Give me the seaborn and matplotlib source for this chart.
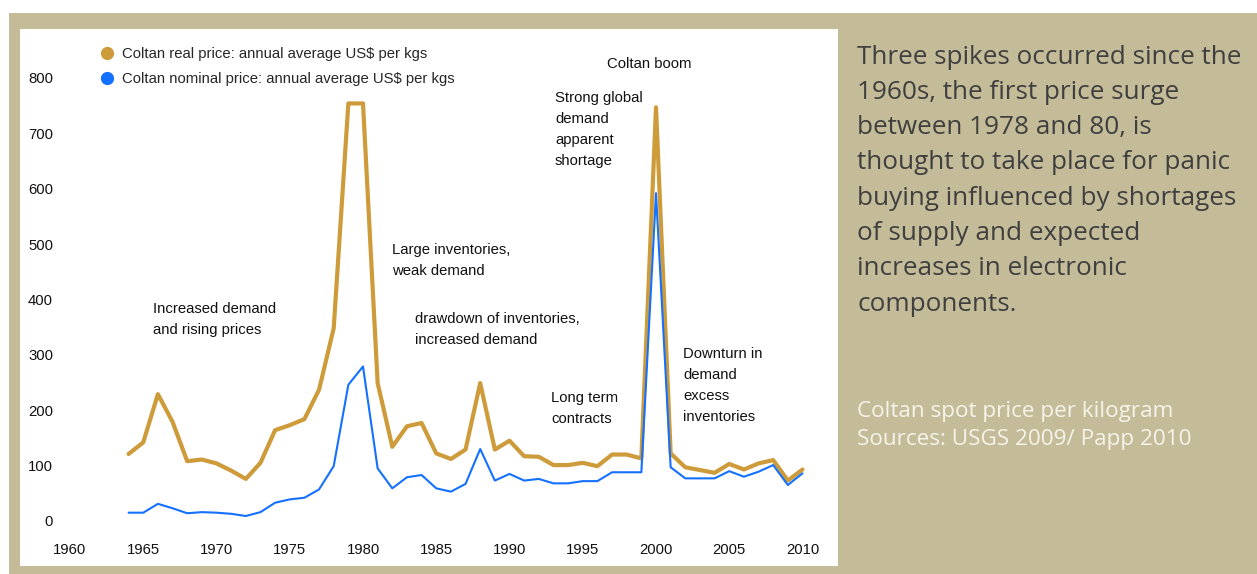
import numpy as np
import pandas as pd
import seaborn as sns
import matplotlib
matplotlib.use("Agg")
import matplotlib.pyplot as plt
from matplotlib.lines import Line2D
from matplotlib.patches import Rectangle

# ---------------- data ----------------
years = list(range(1964, 2011))
real_price = [121, 142, 229, 179, 108, 111, 104, 91, 76, 105,
              164, 173, 184, 237, 348, 754, 754, 249, 134, 171,
              177, 122, 112, 129, 249, 129, 145, 117, 116, 101,
              101, 105, 99, 120, 120, 113, 747, 122, 97, 92,
              87, 103, 93, 104, 110, 73, 93]
nominal_price = [15, 15, 31, 23, 14, 16, 15, 13, 9, 16,
                 33, 39, 42, 57, 99, 246, 279, 95, 59, 79,
                 83, 59, 53, 67, 130, 73, 85, 73, 76, 68,
                 68, 72, 72, 88, 88, 88, 592, 97, 77, 77,
                 77, 90, 80, 89, 101, 65, 86]
series_names = ["Coltan real price: annual average US$ per kgs",
                "Coltan nominal price: annual average US$ per kgs"]
x_ticks = [1960, 1965, 1970, 1975, 1980, 1985, 1990, 1995, 2000, 2005, 2010]
y_ticks = [0, 100, 200, 300, 400, 500, 600, 700, 800]

annotations = [
    (153, 309, ["Increased demand", "and rising prices"]),
    (392, 250, ["Large inventories,", "weak demand"]),
    (415, 319, ["drawdown of inventories,", "increased demand"]),
    (607, 64, ["Coltan boom"]),
    (555, 98, ["Strong global", "demand", "apparent", "shortage"]),
    (551, 398, ["Long term", "contracts"]),
    (683, 354, ["Downturn in", "demand", "excess", "inventories"]),
]
side_text = ["Three spikes occurred since the", "1960s, the first price surge",
             "between 1978 and 80, is", "thought to take place for panic",
             "buying influenced by shortages", "of supply and expected",
             "increases in electronic", "components."]
source_text = ["Coltan spot price per kilogram", "Sources: USGS 2009/ Papp 2010"]

GOLD = "#CE9B3A"
BLUE = "#1470FF"
TAN = "#C4BC98"
FS = 10.7

df = pd.DataFrame({
    "year": years * 2,
    "price": real_price + nominal_price,
    "series": [series_names[0]] * len(years) + [series_names[1]] * len(years),
})

# ---------------- figure ----------------
W, H = 1257, 574
sns.set_theme(style="white")
plt.rcParams["font.family"] = ["Liberation Sans", "DejaVu Sans"]
fig = plt.figure(figsize=(W / 100, H / 100), dpi=100)
fig.patch.set_facecolor("white")

def px(x, y):
    return x / W, 1 - y / H

fig.patches.append(Rectangle(px(9, 574), (W - 9) / W, (574 - 13) / H,
                             transform=fig.transFigure, facecolor=TAN,
                             edgecolor="none", zorder=-10))
fig.patches.append(Rectangle(px(20, 566), (838 - 20) / W, (566 - 29) / H,
                             transform=fig.transFigure, facecolor="white",
                             edgecolor="none", zorder=-9))

# axes placement (pixels)
ax_l, ax_r, ax_t, ax_b = 60, 830, 60, 540
ax = fig.add_axes([ax_l / W, 1 - ax_b / H, (ax_r - ax_l) / W, (ax_b - ax_t) / H])
ax.set_facecolor("none")

x0px, xs = 70.0, 14.65   # 1960 at 70px, 14.65 px / year
y0px, ys = 521.0, 0.5538  # 0 at 521px, px per unit
ax.set_xlim(1960 + (ax_l - x0px) / xs, 1960 + (ax_r - x0px) / xs)
ax.set_ylim((y0px - ax_b) / ys, (y0px - ax_t) / ys)

sns.lineplot(data=df[df.series == series_names[0]], x="year", y="price",
             color=GOLD, linewidth=3.0, ax=ax, legend=False)
sns.lineplot(data=df[df.series == series_names[1]], x="year", y="price",
             color=BLUE, linewidth=1.5, ax=ax, legend=False)

for s in ax.spines.values():
    s.set_visible(False)
ax.set_xticks(x_ticks)
ax.set_yticks(y_ticks)
ax.tick_params(axis="both", length=0, labelsize=FS, colors="#111111")
ax.tick_params(axis="y", pad=5)
ax.tick_params(axis="x", pad=2)
ax.set_xlabel("")
ax.set_ylabel("")
ax.grid(False)

handles = [Line2D([], [], marker="o", linestyle="none", color=GOLD, markersize=8.5),
           Line2D([], [], marker="o", linestyle="none", color=BLUE, markersize=8.5)]
fig.legend(handles, series_names, loc="upper left",
           bbox_to_anchor=px(100, 47), frameon=False, fontsize=FS,
           handletextpad=0.45, labelspacing=0.75, handlelength=1.0,
           borderpad=0, borderaxespad=0)

line_h = 21
for x, y, lines in annotations:
    for i, t in enumerate(lines):
        fx, fy = px(x, y + i * line_h)
        fig.text(fx, fy, t, ha="left", va="center", fontsize=FS, color="#111111")

for i, t in enumerate(side_text):
    fx, fy = px(857, 57 + i * 35.3)
    fig.text(fx, fy, t, ha="left", va="center", fontsize=18.85,
             family=["Open Sans", "DejaVu Sans"], color="#3F3F3F")
for i, t in enumerate(source_text):
    fx, fy = px(857, 411 + i * 28)
    fig.text(fx, fy, t, ha="left", va="center", fontsize=16.2,
             family=["Open Sans", "DejaVu Sans"], color="#F5F3EA")

fig.savefig("out.png", dpi=100)
